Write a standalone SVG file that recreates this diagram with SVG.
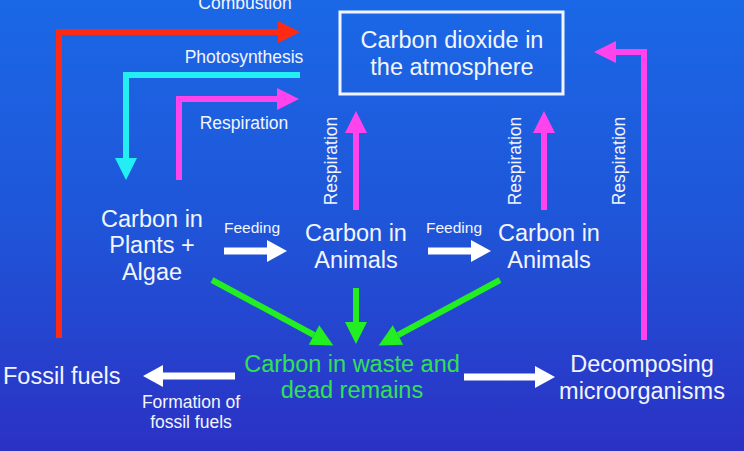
<svg xmlns="http://www.w3.org/2000/svg" width="744" height="451" viewBox="0 0 744 451">
<defs>
<linearGradient id="bg" x1="0" y1="0" x2="0" y2="1">
<stop offset="0" stop-color="#1a68e6"/>
<stop offset="0.5" stop-color="#1f55d8"/>
<stop offset="1" stop-color="#2b31c4"/>
</linearGradient>
<marker id="hRed" markerUnits="userSpaceOnUse" markerWidth="22" markerHeight="22" refX="0" refY="11" orient="auto" overflow="visible"><path d="M0,0 L22,11 L0,22 Z" fill="#ff2a14"/></marker>
<marker id="hCyan" markerUnits="userSpaceOnUse" markerWidth="22" markerHeight="22" refX="0" refY="11" orient="auto" overflow="visible"><path d="M0,0 L22,11 L0,22 Z" fill="#22eef4"/></marker>
<marker id="hMag" markerUnits="userSpaceOnUse" markerWidth="22" markerHeight="22" refX="0" refY="11" orient="auto" overflow="visible"><path d="M0,0 L22,11 L0,22 Z" fill="#ff44ee"/></marker>
<marker id="hGreen" markerUnits="userSpaceOnUse" markerWidth="22" markerHeight="22" refX="0" refY="11" orient="auto" overflow="visible"><path d="M0,0 L22,11 L0,22 Z" fill="#22ee22"/></marker>
<marker id="hWhite" markerUnits="userSpaceOnUse" markerWidth="22" markerHeight="22" refX="0" refY="11" orient="auto" overflow="visible"><path d="M0,0 L20,11 L0,22 Z" fill="#ffffff"/></marker>
</defs>
<style>
text{font-family:"Liberation Sans",Arial,sans-serif;fill:#f2f5ff}
.big{font-size:23.5px;text-anchor:middle}
.sm{font-size:17.5px;text-anchor:middle}
.lbl{font-size:15.5px;text-anchor:middle}
.grn{fill:#33e055}
.c{fill:none;stroke-width:6;stroke-linejoin:miter}
.red{stroke:#ff2a14}
.cyan{stroke:#22eef4}
.mag{stroke:#ff44ee}
.green{stroke:#22ee22}
.white{stroke:#ffffff;stroke-width:7}
</style>
<rect width="744" height="451" fill="url(#bg)"/>
<g id="connectors">
<path class="c red" d="M59,338 V32 H278" marker-end="url(#hRed)"/>
<path class="c cyan" d="M300,75 H126 V158" marker-end="url(#hCyan)"/>
<path class="c mag" d="M179,180 V99 H277" marker-end="url(#hMag)"/>
<path class="c mag" d="M356,210 V133" marker-end="url(#hMag)"/>
<path class="c mag" d="M544,210 V133" marker-end="url(#hMag)"/>
<path class="c mag" d="M644,340 V52 H616" marker-end="url(#hMag)"/>
<path class="c white" d="M224,251 H267" marker-end="url(#hWhite)"/>
<path class="c white" d="M428,251 H471" marker-end="url(#hWhite)"/>
<path class="c white" d="M235,376 H163" marker-end="url(#hWhite)"/>
<path class="c white" d="M464,377 H535" marker-end="url(#hWhite)"/>
<path class="c green" d="M212,280 L314,335" marker-end="url(#hGreen)"/>
<path class="c green" d="M356,288 V322" marker-end="url(#hGreen)"/>
<path class="c green" d="M500,280 L398,335" marker-end="url(#hGreen)"/>
<text class="sm" x="245" y="9">Combustion</text>
<text class="sm" x="244" y="63">Photosynthesis</text>
<text class="sm" x="244" y="129">Respiration</text>
<text class="sm" transform="translate(337,161) rotate(-90)">Respiration</text>
<text class="sm" transform="translate(521,161) rotate(-90)">Respiration</text>
<text class="sm" transform="translate(625,161) rotate(-90)">Respiration</text>
<text class="lbl" x="252" y="233">Feeding</text>
<text class="lbl" x="454" y="233">Feeding</text>
<text class="sm" x="191" y="408">Formation of</text>
<text class="sm" x="191" y="428">fossil fuels</text>
</g>
<g id="atmosphere">
<rect x="340" y="12" width="223" height="82" fill="none" stroke="#f2f5ff" stroke-width="3"/>
<text class="big" x="452" y="48">Carbon dioxide in</text>
<text class="big" x="452" y="75">the atmosphere</text>
</g>
<g id="plants">
<text class="big" x="152" y="227">Carbon in</text>
<text class="big" x="152" y="253">Plants +</text>
<text class="big" x="152" y="280">Algae</text>
</g>
<g id="animals1">
<text class="big" x="356" y="241">Carbon in</text>
<text class="big" x="356" y="268">Animals</text>
</g>
<g id="animals2">
<text class="big" x="549" y="241">Carbon in</text>
<text class="big" x="549" y="268">Animals</text>
</g>
<g id="waste">
<text class="big grn" x="352" y="372">Carbon in waste and</text>
<text class="big grn" x="352" y="398">dead remains</text>
</g>
<g id="fossil">
<text class="big" x="3" y="384" style="text-anchor:start">Fossil fuels</text>
</g>
<g id="decomposers">
<text class="big" x="642" y="372">Decomposing</text>
<text class="big" x="642" y="399">microorganisms</text>
</g>
</svg>
